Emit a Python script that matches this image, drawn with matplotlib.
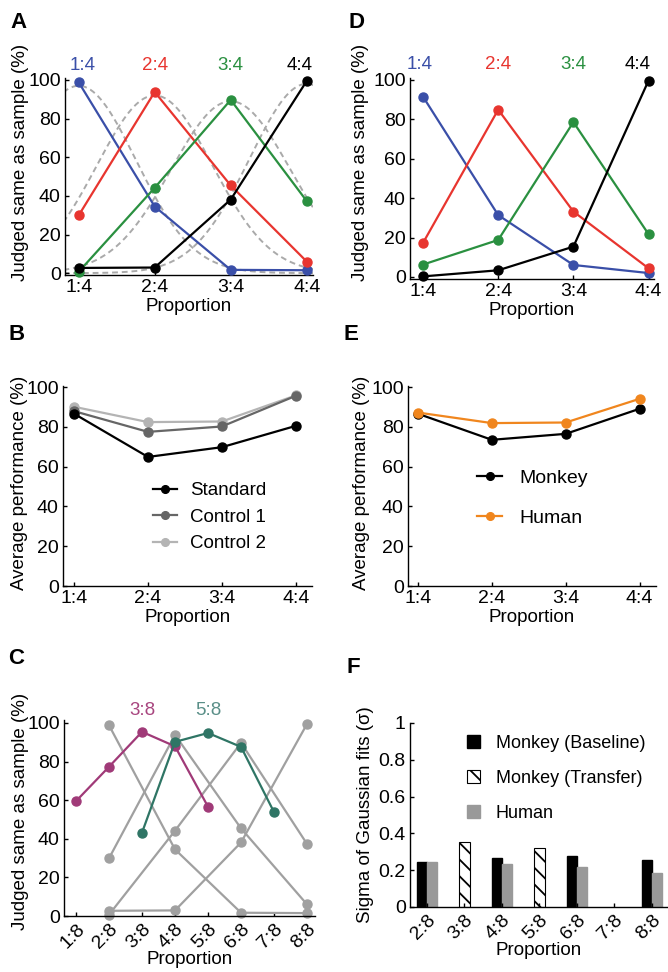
import matplotlib.pyplot as plt
import numpy as np

plt.rcParams["font.family"] = ["Liberation Sans", "DejaVu Sans"]
plt.rcParams["font.size"] = 13.5
plt.rcParams["axes.linewidth"] = 1.0
plt.rcParams["hatch.linewidth"] = 1.3

# ---- data ----
props4 = ["1:4", "2:4", "3:4", "4:4"]
x4 = [1, 2, 3, 4]
props8 = ["1:8", "2:8", "3:8", "4:8", "5:8", "6:8", "7:8", "8:8"]
x8 = [1, 2, 3, 4, 5, 6, 7, 8]

# A: monkey, judged same as sample for each sample
a_14 = [98.8, 34.5, 1.7, 1.5]
a_24 = [29.9, 93.8, 45.4, 6.0]
a_34 = [0.7, 44.2, 89.7, 37.3]
a_44 = [2.7, 2.9, 38.1, 99.5]
# gaussian fits (dashed)
fit_mu = [1, 2, 3, 4]
fit_amp = [97, 92, 89, 98]
fit_sigma = [0.75, 0.76, 0.78, 0.75]

# D: human
d_14 = [91.5, 31.4, 6.1, 2.0]
d_24 = [17.3, 84.9, 33.2, 4.4]
d_34 = [6.3, 18.8, 78.6, 21.7]
d_44 = [0.3, 3.4, 15.4, 99.7]

# B: average performance
b_standard = [86.6, 64.9, 69.8, 80.5]
b_control1 = [87.9, 77.5, 80.2, 95.6]
b_control2 = [90.1, 82.4, 82.7, 95.8]

# E
e_monkey = [86.6, 73.5, 76.5, 89.1]
e_human = [87.2, 81.9, 82.2, 94.1]

# C: transfer (gray = baseline from A)
c_base_x = [2, 4, 6, 8]
c_38_x = [1, 2, 3, 4, 5]
c_38 = [59.5, 77.3, 95.4, 87.9, 56.6]
c_58_x = [3, 4, 5, 6, 7]
c_58 = [43.2, 90.2, 94.8, 87.6, 53.8]

# F: sigma of gaussian fits
f_cats = ["2:8", "3:8", "4:8", "5:8", "6:8", "7:8", "8:8"]
f_x = [2, 3, 4, 5, 6, 7, 8]
f_base_x = [2, 4, 6, 8]
f_baseline = [0.245, 0.264, 0.278, 0.258]
f_human = [0.245, 0.231, 0.218, 0.185]
f_transfer_x = [3, 5]
f_transfer = [0.353, 0.322]

c_blue = "#3a4fa8"
c_red = "#e8352f"
c_green = "#2a9040"
c_black = "#000000"
c_mag = "#a03a78"
c_teal = "#2f7565"
c_orange = "#f0861e"

ms = 6.5
lw = 1.6


def style(ax):
    ax.spines["top"].set_visible(False)
    ax.spines["right"].set_visible(False)
    ax.tick_params(direction="in", length=3, width=1, pad=3, labelsize=14)


fig = plt.figure(figsize=(6.68, 9.72), dpi=100)

# ---------- A ----------
axA = fig.add_axes([0.0973, 0.717, 0.371, 0.2027])
xx = np.linspace(0.8, 4.1, 300)
for mu, amp, sg in zip(fit_mu, fit_amp, fit_sigma):
    axA.plot(xx, amp * np.exp(-(xx - mu) ** 2 / (2 * sg ** 2)), ls="--",
             color="#aaaaaa", lw=1.4, dashes=(3, 2), zorder=1)
for ys, c in zip([a_14, a_24, a_34, a_44], [c_blue, c_red, c_green, c_black]):
    axA.plot(x4, ys, "-o", color=c, ms=ms, lw=lw, clip_on=False, zorder=3)
axA.set_xlim(0.82, 4.08)
axA.set_ylim(-1, 101)
axA.set_xticks(x4)
axA.set_xticklabels(props4)
axA.set_yticks([0, 20, 40, 60, 80, 100])
axA.set_xlabel("Proportion", labelpad=1)
axA.set_ylabel("Judged same as sample (%)")
axA.yaxis.set_label_coords(-0.145, 0.57)
for xp, t, c in zip([1.05, 2, 3, 3.9], props4, [c_blue, c_red, c_green, c_black]):
    axA.text(xp, 107.7, t, color=c, ha="center", va="center", fontsize=13.5, clip_on=False)
style(axA)

# ---------- D ----------
axD = fig.add_axes([0.6138, 0.713, 0.365, 0.2068])
for ys, c in zip([d_14, d_24, d_34, d_44], [c_blue, c_red, c_green, c_black]):
    axD.plot(x4, ys, "-o", color=c, ms=ms, lw=lw, clip_on=False, zorder=3)
axD.set_xlim(0.827, 4.07)
axD.set_ylim(-1, 101)
axD.set_xticks(x4)
axD.set_xticklabels(props4)
axD.set_yticks([0, 20, 40, 60, 80, 100])
axD.set_xlabel("Proportion", labelpad=1)
axD.set_ylabel("Judged same as sample (%)")
axD.yaxis.set_label_coords(-0.17, 0.58)
for xp, t, c in zip([0.95, 2, 3, 3.85], props4, [c_blue, c_red, c_green, c_black]):
    axD.text(xp, 107.6, t, color=c, ha="center", va="center", fontsize=13.5, clip_on=False)
style(axD)

# ---------- B ----------
axB = fig.add_axes([0.0943, 0.397, 0.3728, 0.2058])
axB.plot(x4, b_control2, "-o", color="#b4b4b4", ms=ms, lw=lw, label="Control 2", zorder=2)
axB.plot(x4, b_control1, "-o", color="#666666", ms=ms, lw=lw, label="Control 1", zorder=3)
axB.plot(x4, b_standard, "-o", color=c_black, ms=ms, lw=lw, label="Standard", zorder=4)
axB.set_xlim(0.85, 4.22)
axB.set_ylim(0, 100.5)
axB.set_xticks(x4)
axB.set_xticklabels(props4)
axB.set_yticks([0, 20, 40, 60, 80, 100])
axB.set_xlabel("Proportion", labelpad=1)
axB.set_ylabel("Average performance (%)")
axB.yaxis.set_label_coords(-0.14, 0.515)
h, l = axB.get_legend_handles_labels()
axB.legend(h[::-1], l[::-1], loc="upper left", bbox_to_anchor=(0.361, 0.52), frameon=False,
           borderpad=0, borderaxespad=0, handlelength=1.3, handletextpad=0.7,
           labelspacing=0.5, fontsize=13.5, markerscale=0.85)
style(axB)

# ---------- E ----------
axE = fig.add_axes([0.6108, 0.397, 0.371, 0.2058])
axE.plot(x4, e_monkey, "-o", color=c_black, ms=ms, lw=lw, label="Monkey", zorder=3)
axE.plot(x4, e_human, "-o", color=c_orange, ms=ms, lw=lw, label="Human", zorder=4)
axE.set_xlim(0.865, 4.22)
axE.set_ylim(0, 100.5)
axE.set_xticks(x4)
axE.set_xticklabels(props4)
axE.set_yticks([0, 20, 40, 60, 80, 100])
axE.set_xlabel("Proportion", labelpad=1)
axE.set_ylabel("Average performance (%)")
axE.yaxis.set_label_coords(-0.153, 0.515)
axE.legend(loc="upper left", bbox_to_anchor=(0.278, 0.585), frameon=False,
           borderpad=0, borderaxespad=0, handlelength=1.3, handletextpad=0.9,
           labelspacing=1.15, fontsize=14, markerscale=0.85)
style(axE)

# ---------- C ----------
axC = fig.add_axes([0.0958, 0.0576, 0.3757, 0.2016])
for ys in [a_14, a_24, a_34, a_44]:
    axC.plot(c_base_x, ys, "-o", color="#a0a0a0", ms=ms, lw=lw, clip_on=False, zorder=2)
axC.plot(c_38_x, c_38, "-o", color=c_mag, ms=ms, lw=lw, clip_on=False, zorder=3)
axC.plot(c_58_x, c_58, "-o", color=c_teal, ms=ms, lw=lw, clip_on=False, zorder=4)
axC.set_xlim(0.636, 8.24)
axC.set_ylim(0, 101.5)
axC.set_xticks(x8)
axC.set_xticklabels(props8, rotation=45, ha="right", rotation_mode="anchor")
axC.set_yticks([0, 20, 40, 60, 80, 100])
axC.set_xlabel("Proportion", labelpad=0)
axC.set_ylabel("Judged same as sample (%)")
axC.yaxis.set_label_coords(-0.14, 0.535)
axC.text(3, 106.7, "3:8", color="#a8457f", ha="center", va="center", fontsize=13.5, clip_on=False)
axC.text(5, 106.7, "5:8", color="#5a8f88", ha="center", va="center", fontsize=13.5, clip_on=False)
style(axC)

# ---------- F ----------
axF = fig.add_axes([0.6138, 0.0669, 0.3862, 0.1893])
bw = 0.27
axF.bar(np.array(f_base_x) - bw / 2, f_baseline, width=bw, color="black",
        edgecolor="black", label="Monkey (Baseline)")
axF.bar(f_transfer_x, f_transfer, width=bw, color="white", edgecolor="black",
        hatch="\\\\", lw=0.8, label="Monkey (Transfer)")
axF.bar(np.array(f_base_x) + bw / 2, f_human, width=bw, color="#999999",
        edgecolor="#999999", label="Human")
axF.set_xlim(1.547, 8.43)
axF.set_ylim(0, 1)
axF.set_xticks(f_x)
axF.set_xticklabels(f_cats, rotation=45, ha="right", rotation_mode="anchor")
axF.set_yticks([0, 0.2, 0.4, 0.6, 0.8, 1])
axF.set_yticklabels(["0", "0.2", "0.4", "0.6", "0.8", "1"])
axF.set_xlabel("Proportion", labelpad=0)
axF.set_ylabel("Sigma of Gaussian fits (σ)")
axF.yaxis.set_label_coords(-0.14, 0.5)
axF.legend(loc="upper left", bbox_to_anchor=(0.22, 0.935), frameon=False,
           borderpad=0, borderaxespad=0, handlelength=0.75, handleheight=0.75,
           handletextpad=0.85, labelspacing=1.0, fontsize=13)
style(axF)

# panel letters
for t, xp, yp in [("A", 10, 22), ("D", 349, 22), ("B", 8, 335), ("E", 344, 335),
                  ("C", 8, 658), ("F", 347, 667)]:
    fig.text(xp / 668, 1 - yp / 972, t, fontsize=16, fontweight="bold",
             ha="left", va="center")

fig.savefig("out.png", dpi=100)
